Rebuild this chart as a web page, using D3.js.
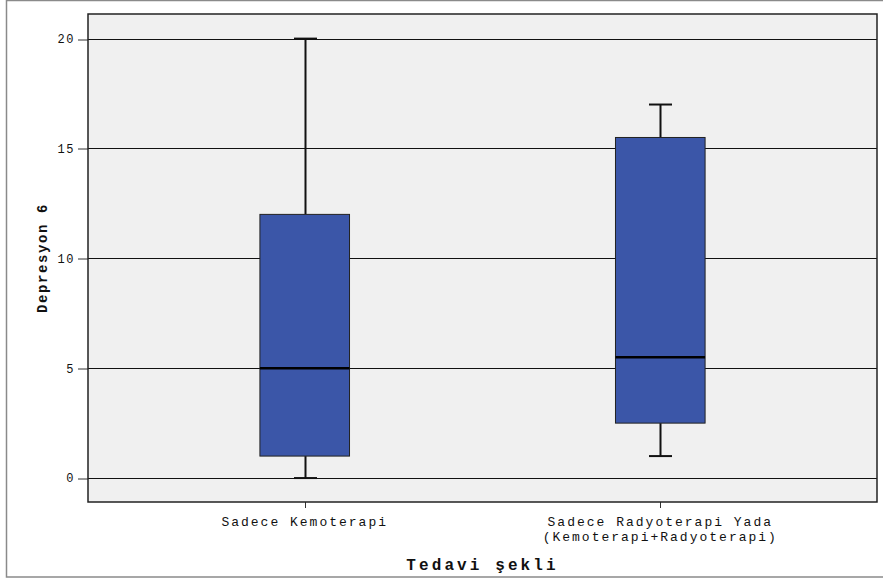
<!DOCTYPE html>
<html>
<head>
<meta charset="utf-8">
<script src="https://cdn.jsdelivr.net/npm/d3@7"></script>
<style>
  body { margin: 0; background: #fff; }
  text { font-family: "Liberation Mono", "DejaVu Sans Mono", monospace; fill: #111; }
</style>
</head>
<body>
<div id="chart"></div>
<script>
// box plot data (Depresyon 6 by Tedavi şekli)
const categories = ['Sadece Kemoterapi', 'Sadece Radyoterapi Yada\n(Kemoterapi+Radyoterapi)'];
const whiskerLow = [0, 1];
const q1 = [1, 2.5];
const median = [5, 5.5];
const q3 = [12, 15.5];
const whiskerHigh = [20, 17];
const yTicks = [0, 5, 10, 15, 20];

const W = 883, H = 581;
const plot = { left: 88, top: 14, right: 877, bottom: 502 };

const svg = d3.select('#chart').append('svg')
  .attr('width', W).attr('height', H);

// outer frame
svg.append('rect').attr('x', 6.5).attr('y', 0.5).attr('width', W).attr('height', 576.5)
  .attr('fill', '#fff').attr('stroke', '#8a8a8a').attr('stroke-width', 1.5);

const y = d3.scaleLinear().domain([-1.09, 21.12]).range([plot.bottom, plot.top]);
const x = d3.scaleBand().domain(categories).range([plot.left, plot.right])
  .paddingInner(0.748).paddingOuter(0.4835);

svg.append('rect')
  .attr('x', plot.left).attr('y', plot.top)
  .attr('width', plot.right - plot.left).attr('height', plot.bottom - plot.top)
  .attr('fill', '#f0f0f0');

// gridlines
svg.append('g').selectAll('line').data(yTicks).join('line')
  .attr('x1', plot.left).attr('x2', plot.right)
  .attr('y1', d => Math.round(y(d)) + 0.5).attr('y2', d => Math.round(y(d)) + 0.5)
  .attr('stroke', '#111').attr('stroke-width', 1);

// y axis
const yAxis = svg.append('g').attr('transform', `translate(${plot.left},0)`)
  .call(d3.axisLeft(y).tickValues(yTicks).tickSize(10).tickPadding(3));
yAxis.select('.domain').remove();
yAxis.selectAll('.tick line').attr('stroke', '#333')
  .attr('transform', d => `translate(0,${Math.round(y(d)) + 0.5 - y(d)})`);
yAxis.selectAll('.tick text').attr('font-size', '12px').attr('letter-spacing', '1.6px')
  .attr('fill', '#222').style('font-family', '"Liberation Mono", monospace');

// x axis ticks
const cx = d => x(d) + x.bandwidth() / 2;
svg.append('g').selectAll('line').data(categories).join('line')
  .attr('x1', d => Math.round(cx(d)) + 0.5).attr('x2', d => Math.round(cx(d)) + 0.5)
  .attr('y1', plot.bottom).attr('y2', plot.bottom + 6)
  .attr('stroke', '#333');

// category labels
categories.forEach(c => {
  c.split('\n').forEach((line, i) => {
    svg.append('text')
      .attr('x', cx(c)).attr('y', 526 + i * 15)
      .attr('text-anchor', 'middle')
      .attr('font-size', '13px').attr('letter-spacing', '2px')
      .text(line);
  });
});

// boxes
const boxes = svg.append('g');
categories.forEach((c, i) => {
  const xc = Math.round(cx(c)) + 0.5;
  const g = boxes.append('g');
  // whiskers
  g.append('line').attr('x1', xc).attr('x2', xc)
    .attr('y1', y(whiskerHigh[i])).attr('y2', y(q3[i]))
    .attr('stroke', '#111').attr('stroke-width', 2);
  g.append('line').attr('x1', xc).attr('x2', xc)
    .attr('y1', y(q1[i])).attr('y2', y(whiskerLow[i]))
    .attr('stroke', '#111').attr('stroke-width', 2);
  [whiskerHigh[i], whiskerLow[i]].forEach(v => {
    g.append('line').attr('x1', xc - 11.5).attr('x2', xc + 11.5)
      .attr('y1', y(v)).attr('y2', y(v))
      .attr('stroke', '#111').attr('stroke-width', 2);
  });
  g.append('rect')
    .attr('x', x(c)).attr('y', y(q3[i]))
    .attr('width', x.bandwidth()).attr('height', y(q1[i]) - y(q3[i]))
    .attr('fill', '#3b56a8').attr('stroke', '#222').attr('stroke-width', 1);
  g.append('line').attr('x1', x(c)).attr('x2', x(c) + x.bandwidth())
    .attr('y1', y(median[i])).attr('y2', y(median[i]))
    .attr('stroke', '#000').attr('stroke-width', 2.5);
});

// plot frame
svg.append('rect')
  .attr('x', plot.left).attr('y', plot.top)
  .attr('width', plot.right - plot.left).attr('height', plot.bottom - plot.top)
  .attr('fill', 'none').attr('stroke', '#222').attr('stroke-width', 1.5);

// axis titles
svg.append('text')
  .attr('x', (plot.left + plot.right) / 2).attr('y', 570)
  .attr('text-anchor', 'middle').attr('font-size', '16px').attr('font-weight', 'bold')
  .attr('letter-spacing', '3.1px')
  .text('Tedavi şekli');

svg.append('text')
  .attr('transform', `translate(47,${(plot.top + plot.bottom) / 2}) rotate(-90)`)
  .attr('text-anchor', 'middle').attr('font-size', '14px').attr('font-weight', 'bold')
  .attr('letter-spacing', '1.6px')
  .text('Depresyon 6');
</script>
</body>
</html>
